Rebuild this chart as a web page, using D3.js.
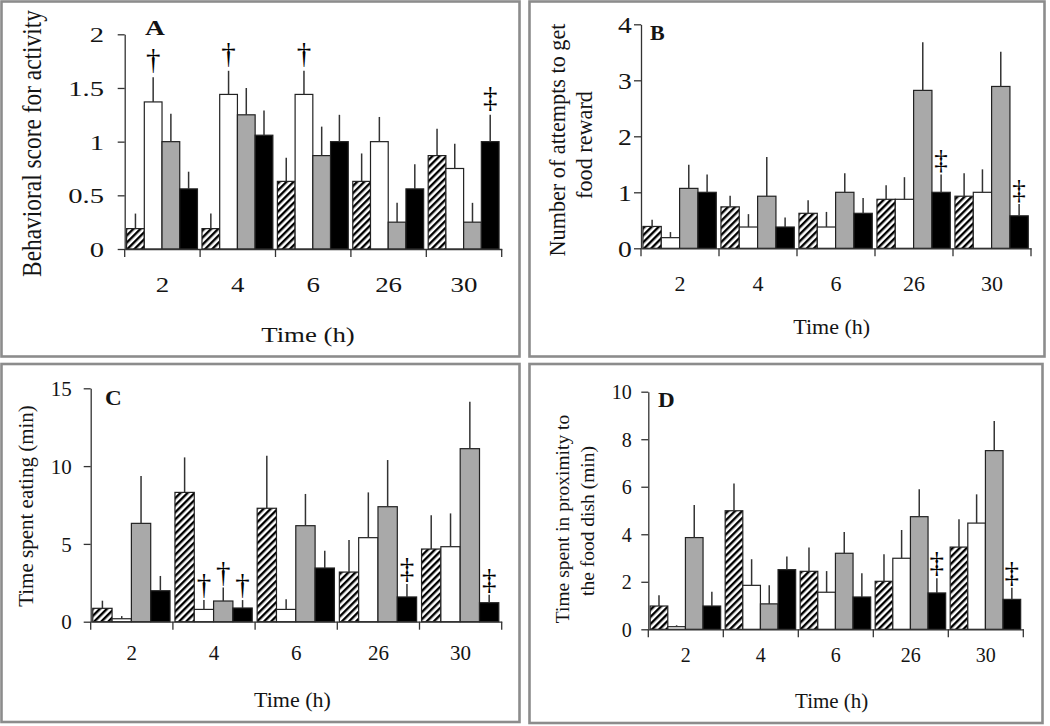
<!DOCTYPE html>
<html><head><meta charset="utf-8">
<script src="https://cdn.jsdelivr.net/npm/d3@7"></script>
<style>body{margin:0;background:#fff} svg{display:block}</style>
</head><body><svg id="c" width="1050" height="726"></svg>
<script>
// ---------- data ----------
const times = ["2", "4", "6", "26", "30"];
const seriesNames = ["hatched", "white", "gray", "black"];

// Panel A: Behavioral score for activity
const activityHatched = [0.19, 0.19, 0.63, 0.63, 0.87];
const activityWhite   = [1.37, 1.44, 1.44, 1.00, 0.75];
const activityGray    = [1.00, 1.25, 0.87, 0.25, 0.25];
const activityBlack   = [0.56, 1.06, 1.00, 0.56, 1.00];
const activityHatchedSem = [0.14, 0.14, 0.22, 0.26, 0.25];
const activityWhiteSem   = [0.23, 0.22, 0.22, 0.23, 0.23];
const activityGraySem    = [0.26, 0.25, 0.27, 0.18, 0.18];
const activityBlackSem   = [0.16, 0.23, 0.25, 0.23, 0.25];
const activityMarks = [
  {time: "2", series: 1, mark: "†"}, {time: "4", series: 1, mark: "†"},
  {time: "6", series: 1, mark: "†"}, {time: "30", series: 3, mark: "‡"}];

// Panel B: Number of attempts to get food reward
const attemptsHatched = [0.39, 0.74, 0.625, 0.875, 0.93];
const attemptsWhite   = [0.19, 0.38, 0.38, 0.875, 1.00];
const attemptsGray    = [1.07, 0.93, 1.00, 2.82, 2.89];
const attemptsBlack   = [1.00, 0.38, 0.625, 1.00, 0.58];
const attemptsHatchedSem = [0.12, 0.20, 0.235, 0.25, 0.41];
const attemptsWhiteSem   = [0.10, 0.23, 0.27, 0.395, 0.41];
const attemptsGraySem    = [0.42, 0.70, 0.34, 0.86, 0.62];
const attemptsBlackSem   = [0.32, 0.17, 0.275, 0.32, 0.21];
const attemptsMarks = [{time: "26", series: 3, mark: "‡"}, {time: "30", series: 3, mark: "‡"}];

// Panel C: Time spent eating (min)
const eatingHatched = [0.86, 8.31, 7.29, 3.19, 4.67];
const eatingWhite   = [0.19, 0.79, 0.79, 5.40, 4.82];
const eatingGray    = [6.32, 1.33, 6.17, 7.39, 11.12];
const eatingBlack   = [1.99, 0.88, 3.45, 1.59, 1.22];
const eatingHatchedSem = [0.49, 2.25, 3.38, 2.06, 2.17];
const eatingWhiteSem   = [0.17, 0.60, 0.65, 2.91, 2.14];
const eatingGraySem    = [3.04, 0.86, 2.04, 3.00, 3.02];
const eatingBlackSem   = [0.95, 0.51, 1.11, 0.83, 0.52];
const eatingMarks = [
  {time: "4", series: 1, mark: "†"}, {time: "4", series: 2, mark: "†"},
  {time: "4", series: 3, mark: "†"}, {time: "26", series: 3, mark: "‡"},
  {time: "30", series: 3, mark: "‡"}];

// Panel D: Time spent in proximity to the food dish (min)
const dishHatched = [0.98, 4.99, 2.44, 2.02, 3.46];
const dishWhite   = [0.11, 1.85, 1.56, 2.99, 4.47];
const dishGray    = [3.86, 1.07, 3.20, 4.74, 7.52];
const dishBlack   = [0.98, 2.51, 1.36, 1.53, 1.26];
const dishHatchedSem = [0.45, 1.15, 1.00, 1.14, 1.17];
const dishWhiteSem   = [0.06, 1.10, 0.89, 1.19, 1.21];
const dishGraySem    = [1.37, 0.78, 0.90, 1.15, 1.25];
const dishBlackSem   = [0.60, 0.55, 1.00, 0.62, 0.49];
const dishMarks = [{time: "26", series: 3, mark: "‡"}, {time: "30", series: 3, mark: "‡"}];

const yTicksA = [0, 0.5, 1, 1.5, 2];
const yTicksB = [0, 1, 2, 3, 4];
const yTicksC = [0, 5, 10, 15];
const yTicksD = [0, 2, 4, 6, 8, 10];
const xTitle = "Time (h)";

// ---------- drawing ----------
const svg = d3.select("#c");
const FONT = "'Liberation Serif','Times New Roman',serif";
const INK = "#141414";

const defs = svg.append("defs");
const pat = defs.append("pattern").attr("id", "hatch")
  .attr("patternUnits", "userSpaceOnUse").attr("width", 5).attr("height", 5)
  .attr("patternTransform", "rotate(45)");
pat.append("rect").attr("width", 5).attr("height", 5).attr("fill", "#fff");
pat.append("rect").attr("width", 2.4).attr("height", 5).attr("fill", "#000");

const fills = {hatched: "url(#hatch)", white: "#ffffff", gray: "#a9a9a9", black: "#000000"};

const panels = [
  {means: [activityHatched, activityWhite, activityGray, activityBlack],
   sems: [activityHatchedSem, activityWhiteSem, activityGraySem, activityBlackSem],
   marks: activityMarks, ticks: yTicksA, ymax: 2, fmt: d => String(d),
   box: [1.5, 1.5, 519.5, 356.5],
   x0: 124.7, x1: 501.7, y0: 249, y1: 34.3,
   yTickRight: 104, yTickFs: 22, yTickSx: 1.3,
   xTickY: 292, xTickFs: 21, xTickSx: 1.28,
   titleX: 308, titleY: 341.5, titleFs: 22, titleSx: 1.22,
   ylabel: ["Behavioral score for activity"], ylabelX: [33], ylabelY: [143.5], ylabelFs: 23.4, ylabelSx: 1.2,
   letter: "A", letterX: 145, letterY: 35, letterFs: 22, letterSx: 1.25, markFs: 29, markGap: 8},
  {means: [attemptsHatched, attemptsWhite, attemptsGray, attemptsBlack],
   sems: [attemptsHatchedSem, attemptsWhiteSem, attemptsGraySem, attemptsBlackSem],
   marks: attemptsMarks, ticks: yTicksB, ymax: 4, fmt: d => String(d),
   box: [529.5, 1.5, 1044.5, 356.5],
   x0: 641, x1: 1031, y0: 248.3, y1: 24.3,
   yTickRight: 631.7, yTickFs: 24, yTickSx: 1.15,
   xTickY: 291, xTickFs: 22, xTickSx: 1.0,
   titleX: 831.7, titleY: 334, titleFs: 22, titleSx: 1.0,
   ylabel: ["Number of attempts to get", "food reward"], ylabelX: [558, 585], ylabelY: [140, 145], ylabelFs: 22.2, ylabelSx: 1.0,
   letter: "B", letterX: 650, letterY: 40, letterFs: 20, letterSx: 1.1, markFs: 27, markGap: 5},
  {means: [eatingHatched, eatingWhite, eatingGray, eatingBlack],
   sems: [eatingHatchedSem, eatingWhiteSem, eatingGraySem, eatingBlackSem],
   marks: eatingMarks, ticks: yTicksC, ymax: 15, fmt: d => String(d),
   box: [1.5, 364, 519.5, 722],
   x0: 90.7, x1: 501.7, y0: 621.7, y1: 388.3,
   yTickRight: 71.7, yTickFs: 21, yTickSx: 1.0,
   xTickY: 660, xTickFs: 21, xTickSx: 1.0,
   titleX: 292.5, titleY: 707, titleFs: 22, titleSx: 1.0,
   ylabel: ["Time spent eating (min)"], ylabelX: [27], ylabelY: [506], ylabelFs: 21, ylabelSx: 1.0,
   letter: "C", letterX: 105, letterY: 405, letterFs: 21, letterSx: 1.1, markFs: 29, markGap: 6},
  {means: [dishHatched, dishWhite, dishGray, dishBlack],
   sems: [dishHatchedSem, dishWhiteSem, dishGraySem, dishBlackSem],
   marks: dishMarks, ticks: yTicksD, ymax: 10, fmt: d => String(d),
   box: [529.5, 364, 1042.5, 723],
   x0: 648.3, x1: 1023.3, y0: 629.3, y1: 391.7,
   yTickRight: 631.7, yTickFs: 20, yTickSx: 1.0,
   xTickY: 662, xTickFs: 20, xTickSx: 1.0,
   titleX: 831.7, titleY: 708, titleFs: 21, titleSx: 1.0,
   ylabel: ["Time spent in proximity to", "the food dish (min)"], ylabelX: [563, 588.5], ylabelY: [519, 521], ylabelFs: 19.5, ylabelSx: 1.0,
   letter: "D", letterX: 658, letterY: 407, letterFs: 21, letterSx: 1.1, markFs: 29, markGap: 6}
];

function drawPanel(p) {
  const g = svg.append("g");
  const [bx0, by0, bx1, by1] = p.box;
  g.append("rect").attr("x", bx0).attr("y", by0).attr("width", bx1 - bx0).attr("height", by1 - by0)
    .attr("fill", "#fff").attr("stroke", "#8c8c8c").attr("stroke-width", 2.6);

  const x = d3.scaleBand().domain(times).range([p.x0, p.x1]).padding(0);
  const bw = x.bandwidth();
  const xi = d3.scaleBand().domain(d3.range(seriesNames.length)).range([bw * 0.025, bw * 0.965]).padding(0);
  const y = d3.scaleLinear().domain([0, p.ymax]).range([p.y0, p.y1]);

  // bars
  seriesNames.forEach((name, s) => {
    g.append("g").selectAll("rect").data(times).join("rect")
      .attr("x", t => x(t) + xi(s))
      .attr("width", xi.bandwidth())
      .attr("y", (t, i) => y(p.means[s][i]))
      .attr("height", (t, i) => y(0) - y(p.means[s][i]))
      .attr("fill", fills[name])
      .attr("stroke", "#222").attr("stroke-width", 1.2);
  });
  // error bars (upper only)
  seriesNames.forEach((name, s) => {
    g.append("g").selectAll("line").data(times).join("line")
      .attr("x1", t => x(t) + xi(s) + xi.bandwidth() / 2)
      .attr("x2", t => x(t) + xi(s) + xi.bandwidth() / 2)
      .attr("y1", (t, i) => y(p.means[s][i]))
      .attr("y2", (t, i) => y(p.means[s][i] + p.sems[s][i]))
      .attr("stroke", "#333").attr("stroke-width", 1.5);
  });
  // significance marks
  g.append("g").selectAll("text").data(p.marks).join("text")
    .attr("x", d => x(d.time) + xi(d.series) + xi.bandwidth() / 2)
    .attr("y", d => { const i = times.indexOf(d.time); return y(p.means[d.series][i] + p.sems[d.series][i]) - p.markGap; })
    .attr("text-anchor", "middle").attr("font-family", FONT).attr("font-size", p.markFs)
    .attr("fill", "#000").text(d => d.mark);

  // y axis
  const ya = g.append("g").attr("transform", `translate(${p.x0},0)`)
    .call(d3.axisLeft(y).tickValues(p.ticks).tickFormat(p.fmt).tickSize(7).tickSizeOuter(0));
  ya.selectAll("path,line").attr("stroke", "#333").attr("stroke-width", 1.3);
  ya.selectAll("text").attr("x", null).attr("dy", "0.34em")
    .attr("transform", `translate(${p.yTickRight - p.x0},0) scale(${p.yTickSx},1)`)
    .attr("font-family", FONT).attr("font-size", p.yTickFs).attr("fill", INK);

  // x axis
  const xa = g.append("g").attr("transform", `translate(0,${p.y0})`)
    .call(d3.axisBottom(x).tickSize(0).tickSizeOuter(0));
  xa.select("path").attr("stroke", "#333").attr("stroke-width", 1.3);
  xa.selectAll("text").attr("y", null).attr("dy", null)
    .attr("transform", `translate(0,${p.xTickY - p.y0}) scale(${p.xTickSx},1)`)
    .attr("font-family", FONT).attr("font-size", p.xTickFs).attr("fill", INK);
  const bounds = times.map(t => x(t)).concat([x.range()[1]]);
  xa.append("g").selectAll("line").data(bounds).join("line")
    .attr("x1", d => d).attr("x2", d => d).attr("y1", 0).attr("y2", 8)
    .attr("stroke", "#333").attr("stroke-width", 1.3);

  // x title
  g.append("text").attr("transform", `translate(${p.titleX},${p.titleY}) scale(${p.titleSx},1)`)
    .attr("text-anchor", "middle").attr("font-family", FONT).attr("font-size", p.titleFs)
    .attr("fill", INK).text(xTitle);

  // y label
  p.ylabel.forEach((line, k) => {
    g.append("text")
      .attr("transform", `translate(${p.ylabelX[k]},${p.ylabelY[k]}) scale(${p.ylabelSx},1) rotate(-90)`)
      .attr("dy", "0.3em").attr("text-anchor", "middle")
      .attr("font-family", FONT).attr("font-size", p.ylabelFs).attr("fill", INK).text(line);
  });

  // panel letter
  g.append("text").attr("transform", `translate(${p.letterX},${p.letterY}) scale(${p.letterSx},1)`)
    .attr("font-family", FONT).attr("font-weight", "bold").attr("font-size", p.letterFs)
    .attr("fill", INK).text(p.letter);
}

panels.forEach(drawPanel);
</script>
</body></html>
